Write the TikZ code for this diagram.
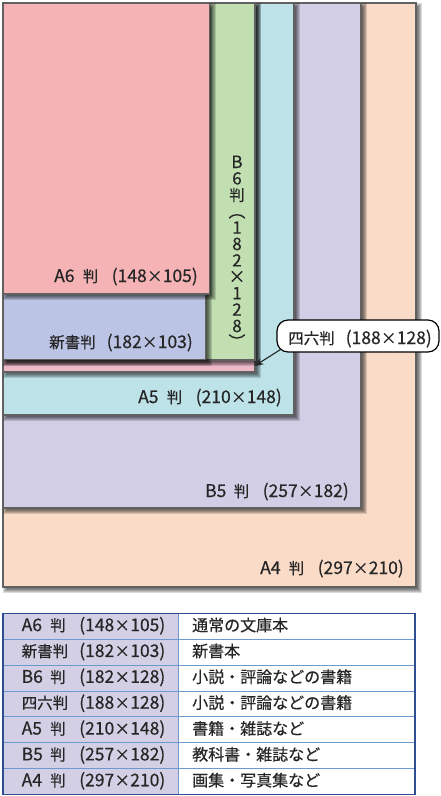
\documentclass[tikz,border=0pt]{standalone}
\usepackage{fontspec}
\setmainfont{Noto Sans CJK JP}[FakeBold=0.5]
\usetikzlibrary{arrows.meta}
\definecolor{cA4}{HTML}{FADBC8}
\definecolor{cB5}{HTML}{D2CEE6}
\definecolor{cA5}{HTML}{BDE2E8}
\definecolor{cSR}{HTML}{EDB9C9}
\definecolor{cB6}{HTML}{C1DFB1}
\definecolor{cSS}{HTML}{BBC4E5}
\definecolor{cA6}{HTML}{F5B3B5}
\definecolor{edgegray}{HTML}{616161}
\definecolor{txt}{HTML}{262626}
\definecolor{tabfill}{HTML}{D3D0E6}
\definecolor{tabline}{HTML}{6A9AD0}
\definecolor{tabouter}{HTML}{2E4F8F}
\newcommand\sheet[5]{%
  \foreach \d in {-3,-2,-1,0,1,2}{%
    \fill[black,opacity=0.14] ({#1+3+\d},{#2+3+\d}) rectangle ({#3+3-\d},{#4+3-\d});
  }%
  \filldraw[fill=#5,draw=edgegray,line width=1.4pt] (#1,#2) rectangle (#3,#4);
}
\newcommand\ltn[1]{{\fontsize{17.5}{18}\selectfont #1}}
\newcommand\lat[1]{\makebox[28.5pt][l]{\ltn{#1}}判}
\newcommand\sz[3]{\makebox[46.5pt][l]{#1}\hspace{11pt}\ltn{(#2}\makebox[16pt]{×}\ltn{#3)}}
\tikzset{
  lbl/.style={anchor=base west,inner sep=0pt,text=txt,font=\fontsize{15.5}{18}\selectfont},
  tabtext/.style={anchor=base west,inner sep=0pt,text=txt,font=\fontsize{16}{18}\selectfont},
  vtext/.style={align=center,inner sep=0pt,text=txt,font={\fontsize{17}{16.4}\selectfont\lineskiplimit=-50pt}},
  calloutbox/.style={draw=black,fill=white,line width=1.2pt,rounded corners=11pt,minimum width=162pt,minimum height=32pt,inner sep=0pt},
  pointer/.style={-{Stealth[length=9pt,width=7pt]},line width=1.1pt,draw=txt,fill=txt}
}
\begin{document}
\begin{tikzpicture}[x=1pt,y=-1pt]
\useasboundingbox (0,0) rectangle (440,796);
\fill[white] (0,0) rectangle (440,796);
% sheets
\sheet{3}{3}{416}{587}{cA4}
\sheet{3}{3}{361}{508}{cB5}
\sheet{3}{3}{294}{415}{cA5}
\sheet{3}{3}{255}{372}{cSR}
\sheet{3}{3}{255}{360}{cB6}
\sheet{3}{3}{205.5}{359.5}{cSS}
\sheet{3}{3}{209.5}{294}{cA6}
% labels
\node[lbl] (lA6) at (54,282) {\sz{\lat{A6}}{148}{105}};
\node[lbl] (lSS) at (49,348) {\sz{新書判}{182}{103}};
\node[lbl] (lA5) at (138,403) {\sz{\lat{A5}}{210}{148}};
\node[lbl] (lB5) at (205,497) {\sz{\lat{B5}}{257}{182}};
\node[lbl] (lA4) at (260,574) {\sz{\lat{A4}}{297}{210}};
\node[vtext] (lB6) at (237,252) {B\\6\\{\fontsize{15.5}{16.4}\selectfont 判}\\︵\\1\\8\\2\\×\\1\\2\\8\\︶};
% callout
\node[calloutbox] (callout) at (358,336) {};
\node[lbl] (calltext) at (288,344) {\sz{四六判}{188}{128}};
\coordinate (tip) at (254.5,366);
\draw[pointer] ([shift={(4,-3)}]callout.south west) -- (tip);
% table
\fill[tabfill] (3,613.5) rectangle (178,794.5);
\fill[white] (178,613.5) rectangle (415,794.5);
\foreach \k in {1,...,6}{
  \draw[tabline,line width=1pt] (3,{613.5+25.857*\k}) -- (415,{613.5+25.857*\k});
}
\draw[tabline,line width=1pt] (178,613.5) -- (178,794.5);
\draw[tabouter,line width=1.5pt] (3,613.5) rectangle (415,794.5);
\foreach \i/\a/\b in {1/{\sz{\lat{A6}}{148}{105}}/{通常の文庫本},
                      2/{\sz{新書判}{182}{103}}/{新書本},
                      3/{\sz{\lat{B6}}{182}{128}}/{小説・評論などの書籍},
                      4/{\sz{四六判}{188}{128}}/{小説・評論などの書籍},
                      5/{\sz{\lat{A5}}{210}{148}}/{書籍・雑誌など},
                      6/{\sz{\lat{B5}}{257}{182}}/{教科書・雑誌など},
                      7/{\sz{\lat{A4}}{297}{210}}/{画集・写真集など}}{
  \node[lbl] (L\i) at (21.5,{613.5+25.857*(\i-0.5)+4.7}) {\a};
  \node[tabtext] (R\i) at (192,{613.5+25.857*(\i-0.5)+4.7}) {\b};
}
\end{tikzpicture}
\end{document}
